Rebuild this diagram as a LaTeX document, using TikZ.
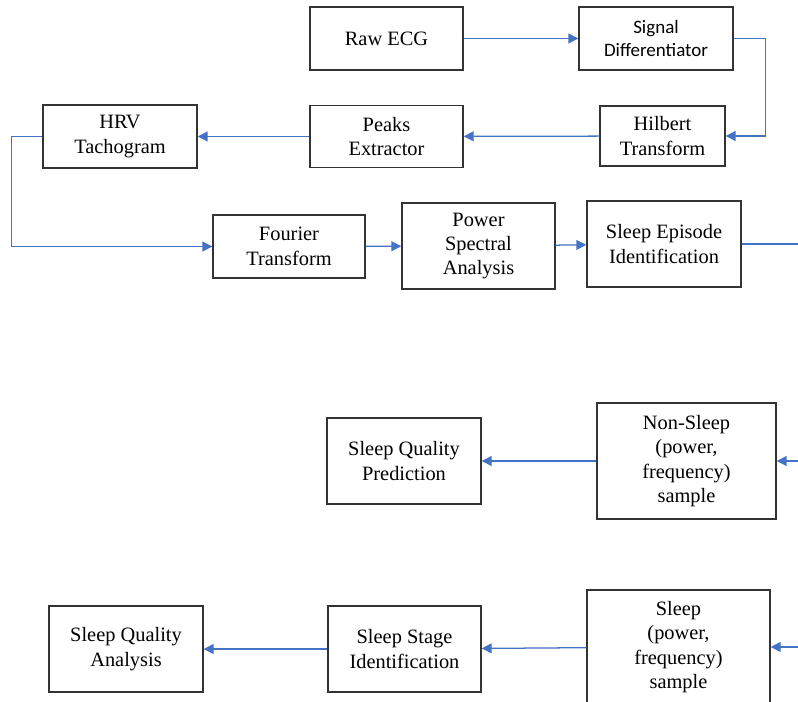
\documentclass[tikz,border=0pt]{standalone}
\usepackage{fontspec}
\setmainfont{Liberation Serif}
\newfontfamily\calibrifont{Carlito}
\usepackage{xcolor}
\usepackage{tikz}
\usetikzlibrary{arrows.meta, positioning}
\definecolor{flowblue}{HTML}{4472C4}

\begin{document}
\begin{tikzpicture}[x=0.025cm, y=-0.025cm,
        box/.style={rectangle, draw=black!80, line width=1pt, align=center, inner sep=1pt,
            font=\fontsize{14.5}{17.3}\selectfont},
        arrow/.style={-{Triangle[length=7pt, width=7pt]}, draw=flowblue, line width=0.9pt},
        line/.style={draw=flowblue, line width=0.9pt}
    ]
        \useasboundingbox (0,0) rectangle (798,702);
        \clip (0,0) rectangle (798,702);
        \node[box, minimum width=3.825cm, minimum height=1.575cm] (raw) at (386.5,38.5) {Raw ECG};
        \node[box, minimum width=3.85cm, minimum height=1.575cm, font=\calibrifont\fontsize{13.5}{17}\selectfont] (sigdiff) at (656,38.5) {Signal\\Differentiator};
        \node[box, minimum width=3.125cm, minimum height=1.5cm] (hilbert) at (662.5,136) {Hilbert\\Transform};
        \node[box, minimum width=3.825cm, minimum height=1.55cm] (peaks) at (386.5,136.5) {Peaks\\Extractor};
        \node[box, minimum width=3.85cm, minimum height=1.575cm] (hrv) at (120,136.5) {HRV\\Tachogram};
        \node[box, minimum width=3.8cm, minimum height=1.575cm] (fourier) at (289,246.5) {Fourier\\Transform};
        \node[box, minimum width=3.825cm, minimum height=2.15cm] (psa) at (478.5,246) {Power\\Spectral\\Analysis};
        \node[box, minimum width=3.85cm, minimum height=2.15cm] (episode) at (664,244) {Sleep Episode\\Identification};
        \node[box, minimum width=4.475cm, minimum height=2.9cm] (nonsleep) at (686.5,461) {Non-Sleep\\(power,\\frequency)\\sample};
        \node[box, minimum width=3.85cm, minimum height=2.15cm] (predict) at (404,461) {Sleep Quality\\Prediction};
        \node[box, minimum width=4.575cm, minimum height=2.85cm] (sleep) at (678.5,647) {Sleep\\(power,\\frequency)\\sample};
        \node[box, minimum width=3.825cm, minimum height=2.15cm] (stage) at (404.5,649) {Sleep Stage\\Identification};
        \node[box, minimum width=3.85cm, minimum height=2.15cm] (analysis) at (126,649) {Sleep Quality\\Analysis};
        % free ends at the right edge
        \coordinate (episodeout) at (798,244);
        \coordinate (nonsleepin) at (798,461);
        \coordinate (sleepin) at (798,647);
        \draw[arrow] (raw) -- (sigdiff);
        \draw[arrow] (sigdiff.east) -- ++(32,0) |- (hilbert.east);
        \draw[arrow] (hilbert) -- (peaks);
        \draw[arrow] (peaks) -- (hrv);
        \draw[arrow] (hrv.west) -- ++(-31,0) |- (fourier.west);
        \draw[arrow] (fourier) -- (psa);
        \draw[arrow] (psa) -- (episode);
        \draw[line] (episode) -- (episodeout);
        \draw[arrow] (nonsleepin) -- (nonsleep);
        \draw[arrow] (nonsleep) -- (predict);
        \draw[arrow] (sleepin) -- (sleep.east |- sleepin);
        \draw[arrow] (sleep) -- (stage);
        \draw[arrow] (stage) -- (analysis);
    \end{tikzpicture}
\end{document}
